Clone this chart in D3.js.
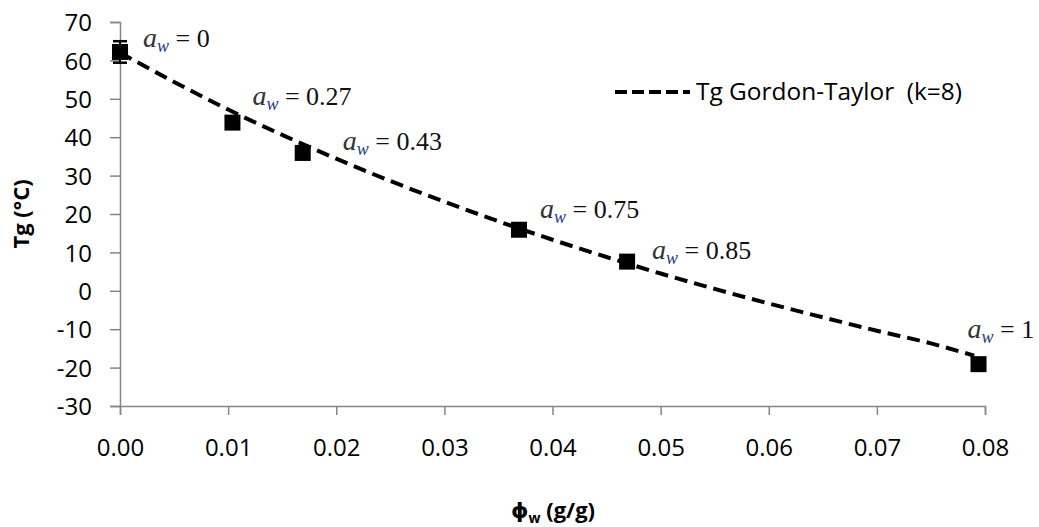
<!DOCTYPE html>
<html>
<head>
<meta charset="utf-8">
<script src="https://cdn.jsdelivr.net/npm/d3@7"></script>
<style>
  html, body { margin: 0; padding: 0; background: #ffffff; }
  svg { display: block; }
</style>
</head>
<body>
<svg id="chart" width="1039" height="527"></svg>
<script>
// ---- data ----
const waterContent = [0.0, 0.0104, 0.0169, 0.0369, 0.0469, 0.0794];   // φw (g/g)
const tgMeasured   = [62.2, 43.8, 35.9, 15.9, 7.6, -19.1];            // Tg (°C)
const tgError      = [2.8, 1.2, 0, 0, 0, 0];
const awLabels     = ["0", "0.27", "0.43", "0.75", "0.85", "1"];

// Gordon-Taylor curve
const curveX = [0.0, 0.005, 0.01, 0.015, 0.02, 0.025, 0.03, 0.035, 0.04, 0.045, 0.05, 0.055, 0.06, 0.065, 0.07, 0.075, 0.079];
const curveY = [62.0, 54.4, 47.2, 40.6, 34.4, 28.6, 23.2, 18.1, 13.3, 8.8, 4.5, 0.5, -3.3, -6.9, -10.4, -13.7, -16.9];

const xTicks = [0, 0.01, 0.02, 0.03, 0.04, 0.05, 0.06, 0.07, 0.08];
const yTicks = [-30, -20, -10, 0, 10, 20, 30, 40, 50, 60, 70];
const legendLabel = "Tg Gordon-Taylor  (k=8)";

// ---- layout ----
const svg = d3.select("#chart");
const x = d3.scaleLinear().domain([0, 0.08]).range([120, 985]);
const y = d3.scaleLinear().domain([-30, 70]).range([406, 22]);
const axisColor = "#868686";
const tickFont = "'Open Sans', 'DejaVu Sans', sans-serif";

// y axis
const yAxis = svg.append("g")
  .attr("transform", `translate(${x(0)},0)`)
  .call(d3.axisLeft(y).tickValues(yTicks).tickSize(10).tickPadding(18).tickFormat(d => String(d)));
// x axis
const xAxis = svg.append("g")
  .attr("transform", `translate(0,${y(-30)})`)
  .call(d3.axisBottom(x).tickValues(xTicks).tickSize(9).tickPadding(24).tickFormat(d3.format(".2f")));

[yAxis, xAxis].forEach(g => {
  g.select(".domain").attr("stroke", axisColor).attr("stroke-width", 1.5);
  g.selectAll(".tick line").attr("stroke", axisColor).attr("stroke-width", 1.5);
  g.selectAll(".tick text").attr("fill", "#000").style("font-family", tickFont).style("font-size", "24px");
});
yAxis.selectAll(".tick text").attr("dy", "0.36em");
xAxis.selectAll(".tick text").attr("dy", "0.71em");

// fitted curve
const line = d3.line().x(d => x(d[0])).y(d => y(d[1])).curve(d3.curveMonotoneX);
svg.append("path")
  .datum(curveX.map((v, i) => [v, curveY[i]]))
  .attr("d", line)
  .attr("fill", "none")
  .attr("stroke", "#000")
  .attr("stroke-width", 4)
  .attr("stroke-dasharray", "13,7");

// error bars
const pts = waterContent.map((v, i) => ({ x: v, y: tgMeasured[i], e: tgError[i], aw: awLabels[i] }));
const eb = svg.append("g").selectAll("g").data(pts.filter(d => d.e > 0)).join("g");
eb.append("line")
  .attr("x1", d => x(d.x)).attr("x2", d => x(d.x))
  .attr("y1", d => y(d.y - d.e)).attr("y2", d => y(d.y + d.e))
  .attr("stroke", "#000").attr("stroke-width", 2);
eb.append("line")
  .attr("x1", d => x(d.x) - 7).attr("x2", d => x(d.x) + 7)
  .attr("y1", d => y(d.y + d.e)).attr("y2", d => y(d.y + d.e))
  .attr("stroke", "#000").attr("stroke-width", 2.5);
eb.append("line")
  .attr("x1", d => x(d.x) - 7).attr("x2", d => x(d.x) + 7)
  .attr("y1", d => y(d.y - d.e)).attr("y2", d => y(d.y - d.e))
  .attr("stroke", "#000").attr("stroke-width", 2.5);

// square markers
const s = 16;
svg.append("g").selectAll("rect").data(pts).join("rect")
  .attr("x", d => x(d.x) - s / 2)
  .attr("y", d => y(d.y) - s / 2)
  .attr("width", s).attr("height", s)
  .attr("fill", "#000");

// a_w annotations
const labelOffsets = [[23, -5], [20, -18], [40, -3], [21, -12], [25, -3], [-11, -26]];
const serif = "'Liberation Serif', 'DejaVu Serif', serif";
const ann = svg.append("g").selectAll("text").data(pts).join("text")
  .attr("x", (d, i) => x(d.x) + labelOffsets[i][0])
  .attr("y", (d, i) => y(d.y) + labelOffsets[i][1])
  .style("font-family", serif)
  .style("font-size", "26px")
  .attr("fill", "#111");
ann.append("tspan").text("a").style("font-style", "italic").style("font-size", "28px").attr("fill", "#333");
ann.append("tspan").text("w").style("font-style", "italic").style("font-size", "18px").attr("dy", 5).attr("fill", "#2a3a8a");
ann.append("tspan").text(d => " = " + d.aw).attr("dy", -5);

// legend
svg.append("line")
  .attr("x1", 615).attr("x2", 690).attr("y1", 92).attr("y2", 92)
  .attr("stroke", "#000").attr("stroke-width", 4).attr("stroke-dasharray", "12,5");
svg.append("text")
  .attr("x", 696).attr("y", 100)
  .style("font-family", tickFont).style("font-size", "23px")
  .attr("textLength", 266).attr("lengthAdjust", "spacingAndGlyphs")
  .attr("xml:space", "preserve")
  .text(legendLabel);

// axis titles
svg.append("text")
  .attr("transform", `translate(29,${y(20)}) rotate(-90)`)
  .attr("text-anchor", "middle")
  .style("font-family", tickFont).style("font-size", "22px").style("font-weight", "bold")
  .text("Tg (°C)");
const xt = svg.append("text")
  .attr("x", 553).attr("y", 518)
  .attr("text-anchor", "middle")
  .style("font-family", tickFont).style("font-size", "22px").style("font-weight", "bold");
xt.append("tspan").text("ϕ");
xt.append("tspan").text("w").style("font-size", "14px").attr("dy", 5);
xt.append("tspan").text(" (g/g)").attr("dy", -5);
</script>
</body>
</html>
